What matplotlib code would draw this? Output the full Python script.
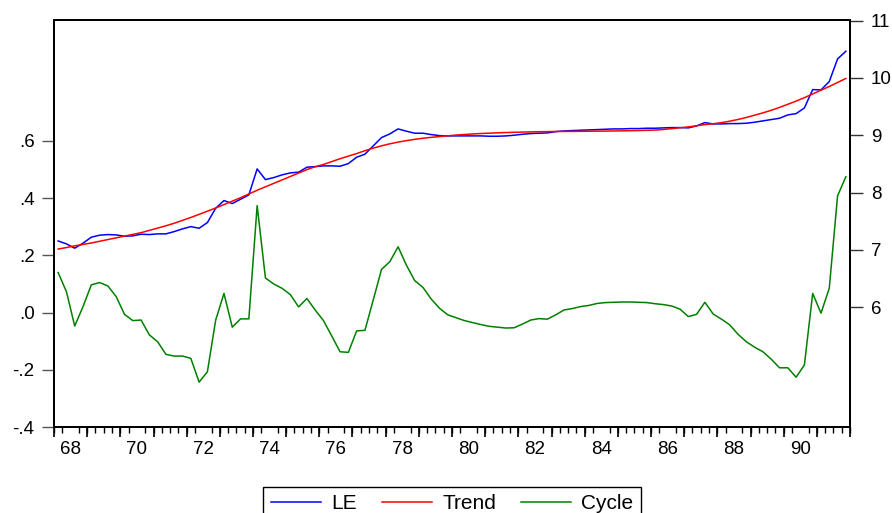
import numpy as np
import matplotlib
matplotlib.use('Agg')
import matplotlib.pyplot as plt
from matplotlib.ticker import FixedLocator, NullFormatter

plt.rcParams['font.family'] = ['Liberation Sans', 'DejaVu Sans']

# quarterly observations 1968Q1 .. 1991Q4
start_year = 1968
n_obs = 96

le = [
    7.156, 7.104, 7.029, 7.117, 7.221, 7.256, 7.267, 7.261,
    7.238, 7.244, 7.273, 7.267, 7.279, 7.279, 7.319, 7.366,
    7.406, 7.377, 7.476, 7.727, 7.860, 7.808, 7.883, 7.959,
    8.412, 8.226, 8.261, 8.308, 8.343, 8.355, 8.442, 8.453,
    8.465, 8.465, 8.459, 8.505, 8.616, 8.669, 8.814, 8.959,
    9.023, 9.110, 9.070, 9.035, 9.035, 9.011, 8.993, 8.988,
    8.988, 8.988, 8.988, 8.988, 8.982, 8.982, 8.988, 9.000,
    9.017, 9.029, 9.035, 9.040, 9.063, 9.075, 9.081, 9.087,
    9.093, 9.098, 9.104, 9.110, 9.110, 9.116, 9.116, 9.122,
    9.122, 9.128, 9.133, 9.133, 9.128, 9.162, 9.220, 9.197,
    9.197, 9.203, 9.203, 9.209, 9.227, 9.250, 9.273, 9.296,
    9.354, 9.377, 9.476, 9.796, 9.790, 9.936, 10.331, 10.465,
]

trend = [
    7.015, 7.040, 7.070, 7.095, 7.120, 7.150, 7.180, 7.210,
    7.240, 7.270, 7.300, 7.340, 7.380, 7.420, 7.465, 7.515,
    7.565, 7.620, 7.675, 7.730, 7.790, 7.850, 7.910, 7.975,
    8.040, 8.100, 8.160, 8.220, 8.280, 8.340, 8.400, 8.450,
    8.490, 8.540, 8.590, 8.635, 8.680, 8.730, 8.775, 8.815,
    8.850, 8.880, 8.905, 8.928, 8.947, 8.963, 8.977, 8.990,
    9.003, 9.013, 9.022, 9.030, 9.036, 9.042, 9.047, 9.051,
    9.055, 9.058, 9.061, 9.063, 9.065, 9.066, 9.067, 9.068,
    9.070, 9.071, 9.072, 9.074, 9.076, 9.079, 9.082, 9.086,
    9.090, 9.100, 9.115, 9.130, 9.145, 9.165, 9.185, 9.200,
    9.220, 9.245, 9.275, 9.310, 9.350, 9.390, 9.435, 9.485,
    9.540, 9.595, 9.655, 9.720, 9.785, 9.850, 9.920, 9.990,
]

cycle = [
    0.140, 0.073, -0.047, 0.021, 0.097, 0.105, 0.093, 0.056,
    -0.006, -0.028, -0.026, -0.078, -0.102, -0.146, -0.152, -0.152,
    -0.160, -0.243, -0.207, -0.026, 0.067, -0.051, -0.022, -0.022,
    0.374, 0.121, 0.100, 0.085, 0.063, 0.020, 0.049, 0.009,
    -0.028, -0.082, -0.137, -0.139, -0.064, -0.062, 0.044, 0.151,
    0.178, 0.230, 0.166, 0.112, 0.088, 0.047, 0.015, -0.008,
    -0.018, -0.028, -0.035, -0.042, -0.048, -0.051, -0.054, -0.053,
    -0.040, -0.026, -0.021, -0.023, -0.008, 0.009, 0.014, 0.021,
    0.025, 0.032, 0.035, 0.036, 0.037, 0.037, 0.036, 0.035,
    0.031, 0.028, 0.023, 0.012, -0.014, -0.006, 0.036, -0.005,
    -0.023, -0.043, -0.076, -0.102, -0.121, -0.137, -0.163, -0.193,
    -0.193, -0.226, -0.183, 0.067, -0.002, 0.085, 0.408, 0.475,
]

left_ticks = [-0.4, -0.2, 0.0, 0.2, 0.4, 0.6]
left_labels = ['-.4', '-.2', '.0', '.2', '.4', '.6']
right_ticks = [6, 7, 8, 9, 10, 11]
year_labels = ['68', '70', '72', '74', '76', '78', '80', '82', '84', '86', '88', '90']

x = np.arange(n_obs)

fig = plt.figure(figsize=(8.92, 5.13), dpi=100)
ax = fig.add_axes([54 / 892, 1 - 427 / 513, 796 / 892, 407 / 513])
ax2 = ax.twinx()

l3, = ax.plot(x, cycle, color='#008000', lw=1.1, label='Cycle')
l1, = ax2.plot(x, le, color='#0000ff', lw=1.1, label='LE')
l2, = ax2.plot(x, trend, color='#ff0000', lw=1.1, label='Trend')

ax.set_xlim(-0.5, n_obs - 0.5)
ax.set_ylim(-0.4, 1.023)
ax2.set_ylim(3.91, 11.01)

ax.set_yticks(left_ticks)
ax.set_yticklabels(left_labels)
ax2.set_yticks(right_ticks)

# year labels centred on each even year, quarter ticks below
centres = [4 * (int(lab) + 1900 - start_year) + 1.5 for lab in year_labels]
ax.set_xticks(centres)
ax.set_xticklabels(year_labels)
ax.xaxis.set_minor_locator(FixedLocator(np.arange(-0.5, n_obs, 1)))
ax.tick_params(axis='x', which='major', length=0, pad=10, labelsize=13.5)
ax.tick_params(axis='x', which='minor', length=4, width=1, direction='out')

# taller ticks at year boundaries
sec = ax.secondary_xaxis('bottom')
sec.set_xticks(np.arange(-0.5, n_obs, 4))
sec.xaxis.set_major_formatter(NullFormatter())
sec.tick_params(length=7, width=1.2)
sec.spines['bottom'].set_visible(False)

ax.tick_params(axis='y', length=9, width=1, pad=5, labelsize=13.5, color='#555555')
ax2.tick_params(axis='y', length=9, width=1, pad=6, labelsize=13.5, color='#333333')

for a in (ax, ax2):
    for s in a.spines.values():
        s.set_linewidth(1.4)
        s.set_color('black')

leg = fig.legend(
    handles=[l1, l2, l3],
    loc='upper center',
    bbox_to_anchor=(452 / 892, 1 - 487 / 513),
    ncol=3,
    fontsize=15,
    frameon=True,
    fancybox=False,
    framealpha=1,
    edgecolor='black',
    handlelength=2.4,
    handletextpad=0.5,
    columnspacing=1.2,
    borderpad=0.35,
    borderaxespad=0,
)
leg.get_frame().set_linewidth(1.0)

fig.savefig('out.png', dpi=100)
